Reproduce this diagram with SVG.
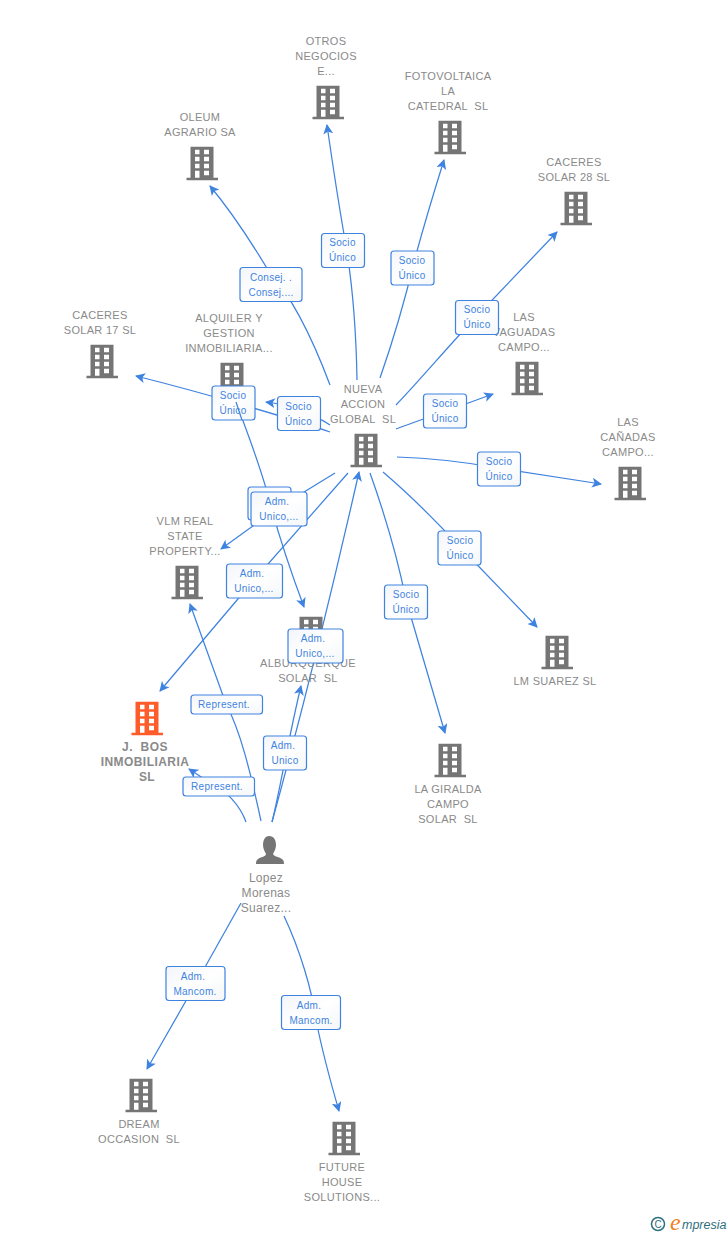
<svg xmlns="http://www.w3.org/2000/svg" width="728" height="1235" viewBox="0 0 728 1235">
<style>
.t{font-family:"Liberation Sans",Arial,sans-serif;font-size:11px;fill:#8a8a8a;text-anchor:middle;letter-spacing:.3px;white-space:pre}
.b{font-weight:bold;font-size:12px;letter-spacing:.45px}
.p{font-size:12px}
.c{fill:none;stroke:#3f83e0;stroke-width:1.25;marker-end:url(#a)}
.n{fill:none;stroke:#3f83e0;stroke-width:1.25}
.l rect{fill:url(#g);stroke:#3f83e0;stroke-width:1.2}
.l text{font-family:"Liberation Sans",Arial,sans-serif;font-size:10px;fill:#3f83e0;text-anchor:middle;letter-spacing:.3px}
</style>
<defs>
<linearGradient id="g" x1="0" y1="0" x2="1" y2="1"><stop offset="0" stop-color="#f2f5fa"/><stop offset=".5" stop-color="#fff"/><stop offset="1" stop-color="#f4f6f8"/></linearGradient>
<marker id="a" viewBox="0 0 10 10" refX="9" refY="5" markerWidth="10" markerHeight="10" markerUnits="userSpaceOnUse" orient="auto"><path d="M0 0L10 5L0 10L2.500 5Z" fill="#3f83e0"/></marker>
<symbol id="bld" viewBox="0 0 32 34" width="32" height="34" overflow="visible">
<path transform="translate(.5 .8)" fill-rule="evenodd" d="M4 0H27V31H31.500V33.500H0V31H4ZM8.500 3V7.500H13V3ZM17.500 3V7.500H22.500V3ZM8.500 10V14.500H13V10ZM17.500 10V14.500H22.500V10ZM8.500 17V21.500H13V17ZM17.500 17V21.500H22.500V17ZM8.500 24V31H13V24ZM17.500 24V28.500H22.500V24Z"/>
</symbol>
</defs>
<rect width="728" height="1235" fill="#fff"/>
<g id="connectors">
<path class="c" d="M357 380C356 320 352 280 345 240C338 200 332 160 327 125"/>
<path class="c" d="M380 378C395 335 405 300 414 262C424 225 433 195 444 160"/>
<path class="c" d="M330 385C315 345 295 300 268 270C250 240 230 210 210 186"/>
<path class="c" d="M396 405C420 380 445 350 475 318L557 232"/>
<path class="c" d="M396 429C420 420 455 408 493 394"/>
<path class="c" d="M397 457C430 458 465 462 498 468L601 484"/>
<path class="c" d="M383 472C410 495 435 520 460 547L537 627"/>
<path class="c" d="M370 473C385 515 398 560 406 600L445 733"/>
<path class="c" d="M330 425C315 415 290 405 266 402"/>
<path class="c" d="M330 432C290 418 200 392 136 376"/>
<path class="c" d="M335 473L278 508L221 549"/>
<path class="c" d="M348 473L254 580L160 691"/>
<path class="c" d="M236 402C250 440 262 470 270 503C280 540 292 575 304 607"/>
<path class="c" d="M272 822C300 720 330 600 359 472"/>
<path class="c" d="M272 822C280 790 288 740 301 686"/>
<path class="c" d="M261 821C250 770 240 730 226 704L190 604"/>
<path class="c" d="M246 822C240 805 225 790 215 786L189 769"/>
<path class="c" d="M241 903L195 985L147 1069"/>
<path class="c" d="M284 916C300 950 312 990 316 1020C322 1050 330 1080 339 1111"/>
</g>
<g id="n-otros"><use href="#bld" x="312" y="85" fill="#757575"/><text class="t"><tspan x="326" y="45">OTROS</tspan><tspan x="326" y="60">NEGOCIOS</tspan><tspan x="326" y="75">E...</tspan></text></g>
<g id="n-foto"><use href="#bld" x="434" y="120" fill="#757575"/><text class="t"><tspan x="448" y="80">FOTOVOLTAICA</tspan><tspan x="448" y="95">LA</tspan><tspan x="448" y="110">CATEDRAL  SL</tspan></text></g>
<g id="n-oleum"><use href="#bld" x="186" y="146" fill="#757575"/><text class="t"><tspan x="200" y="121">OLEUM</tspan><tspan x="200" y="136">AGRARIO SA</tspan></text></g>
<g id="n-c28"><use href="#bld" x="560" y="191" fill="#757575"/><text class="t"><tspan x="574" y="166">CACERES</tspan><tspan x="574" y="181">SOLAR 28 SL</tspan></text></g>
<g id="n-vag"><use href="#bld" x="511" y="361" fill="#757575"/><text class="t"><tspan x="524" y="321">LAS</tspan><tspan x="524" y="336">VAGUADAS</tspan><tspan x="524" y="351">CAMPO...</tspan></text></g>
<g id="n-c17"><use href="#bld" x="86" y="344" fill="#757575"/><text class="t"><tspan x="100" y="319">CACERES</tspan><tspan x="100" y="334">SOLAR 17 SL</tspan></text></g>
<g id="n-alq"><use href="#bld" x="216" y="362" fill="#757575"/><text class="t"><tspan x="229" y="322">ALQUILER Y</tspan><tspan x="229" y="337">GESTION</tspan><tspan x="229" y="352">INMOBILIARIA...</tspan></text></g>
<g id="n-nueva"><use href="#bld" x="350" y="433" fill="#757575"/><text class="t"><tspan x="363" y="393">NUEVA</tspan><tspan x="363" y="408">ACCION</tspan><tspan x="363" y="423">GLOBAL  SL</tspan></text></g>
<g id="n-can"><use href="#bld" x="614" y="466" fill="#757575"/><text class="t"><tspan x="628" y="426">LAS</tspan><tspan x="628" y="441">CAÑADAS</tspan><tspan x="628" y="456">CAMPO...</tspan></text></g>
<g id="n-vlm"><use href="#bld" x="171" y="565" fill="#757575"/><text class="t"><tspan x="185" y="525">VLM REAL</tspan><tspan x="185" y="540">STATE</tspan><tspan x="185" y="555">PROPERTY...</tspan></text></g>
<g id="n-alb"><use href="#bld" x="295" y="616" fill="#757575"/><text class="t"><tspan x="308" y="667">ALBURQUERQUE</tspan><tspan x="308" y="682">SOLAR  SL</tspan></text></g>
<g id="n-lm"><use href="#bld" x="541" y="635" fill="#757575"/><text class="t"><tspan x="555" y="685">LM SUAREZ SL</tspan></text></g>
<g id="n-gir"><use href="#bld" x="434" y="743" fill="#757575"/><text class="t"><tspan x="448" y="793">LA GIRALDA</tspan><tspan x="448" y="808">CAMPO</tspan><tspan x="448" y="823">SOLAR  SL</tspan></text></g>
<g id="n-jbos"><use href="#bld" x="131" y="701" fill="#ff5c2b"/><text class="t b"><tspan x="145" y="751">J.  BOS</tspan><tspan x="145" y="766">INMOBILIARIA</tspan><tspan x="147" y="781">SL</tspan></text></g>
<g id="n-lopez"><path fill="#757575" d="M269 836C274 836 276 840 276 845C276 849 274 852 273 854C274 857 281 857 283 860C284 861 284 864 284 864H256C256 864 256 861 257 860C259 857 266 857 266 854C265 852 263 849 263 845C263 840 265 836 269 836Z"/><text class="t p"><tspan x="266" y="882">Lopez</tspan><tspan x="266" y="897">Morenas</tspan><tspan x="266" y="912">Suarez...</tspan></text></g>
<g id="n-dream"><use href="#bld" x="125" y="1078" fill="#757575"/><text class="t"><tspan x="139" y="1128">DREAM</tspan><tspan x="139" y="1143">OCCASION  SL</tspan></text></g>
<g id="n-future"><use href="#bld" x="328" y="1121" fill="#757575"/><text class="t"><tspan x="342" y="1171">FUTURE</tspan><tspan x="342" y="1186">HOUSE</tspan><tspan x="342" y="1201">SOLUTIONS...</tspan></text></g>
<g id="labels">
<g class="l"><rect x="321.500" y="233.500" width="43" height="34" rx="3"/><text x="342.500" y="246">Socio</text><text x="342.500" y="261">Único</text></g>
<g class="l"><rect x="391" y="251" width="43" height="34" rx="3"/><text x="412" y="264">Socio</text><text x="412" y="279">Único</text></g>
<g class="l"><rect x="240" y="267.500" width="62" height="34" rx="3"/><text x="271" y="281">Consej. .</text><text x="271" y="296">Consej....</text></g>
<g class="l"><rect x="455.500" y="300.500" width="43" height="34" rx="3"/><text x="477" y="313">Socio</text><text x="477" y="328">Único</text></g>
<g class="l"><rect x="423.500" y="394" width="43" height="34" rx="3"/><text x="445" y="407">Socio</text><text x="445" y="422">Único</text></g>
<g class="l"><rect x="477.500" y="452" width="43" height="34" rx="3"/><text x="499" y="465">Socio</text><text x="499" y="480">Único</text></g>
<g class="l"><rect x="438" y="531" width="43" height="34" rx="3"/><text x="460" y="544">Socio</text><text x="460" y="559">Único</text></g>
<g class="l"><rect x="384.500" y="585" width="43" height="34" rx="3"/><text x="406" y="598">Socio</text><text x="406" y="613">Único</text></g>
<g class="l"><rect x="277.500" y="396.500" width="43" height="34" rx="3"/><text x="298.500" y="410">Socio</text><text x="298.500" y="425">Único</text></g>
<g class="l"><rect x="212" y="386" width="43" height="34" rx="3"/><text x="233" y="399">Socio</text><text x="233" y="414">Único</text></g>
<path class="n" d="M236 402L242 420"/>
<g class="l"><rect x="248" y="487" width="43" height="33" rx="3"/></g>
<g class="l"><rect x="251" y="492" width="56" height="34" rx="3"/><text x="277" y="505">Adm.</text><text x="279" y="520">Unico,...</text></g>
<g class="l"><rect x="226.500" y="564" width="56" height="34" rx="3"/><text x="252" y="577">Adm.</text><text x="254" y="592">Unico,...</text></g>
<g class="l"><rect x="288" y="629" width="55" height="34" rx="3"/><text x="313" y="642">Adm.</text><text x="315" y="657">Unico,...</text></g>
<g class="l"><rect x="191" y="695" width="71.500" height="19" rx="3"/><text x="224" y="708">Represent.</text></g>
<g class="l"><rect x="183" y="777" width="71.500" height="19" rx="3"/><text x="217" y="790">Represent.</text></g>
<g class="l"><rect x="263.500" y="736" width="43" height="34" rx="3"/><text x="283" y="749">Adm.</text><text x="285" y="764">Unico</text></g>
<g class="l"><rect x="166" y="966.500" width="59" height="34" rx="3"/><text x="193" y="980">Adm.</text><text x="195" y="995">Mancom.</text></g>
<g class="l"><rect x="281.500" y="995.500" width="59" height="34" rx="3"/><text x="309" y="1009">Adm.</text><text x="311" y="1024">Mancom.</text></g>
</g>
<g id="logo"><circle cx="658" cy="1224" r="6.500" fill="none" stroke="#2f6f80" stroke-width="1.500"/><text x="658" y="1228" font-family="Liberation Sans,sans-serif" font-size="10" fill="#2f6f80" text-anchor="middle">C</text><text x="670" y="1230" font-family="Liberation Serif,serif" font-style="italic" font-size="24" fill="#f08020">e</text><text x="682" y="1229" font-family="Liberation Sans,sans-serif" font-style="italic" font-size="12.500" fill="#2f6f80">mpresia</text></g>
</svg>
